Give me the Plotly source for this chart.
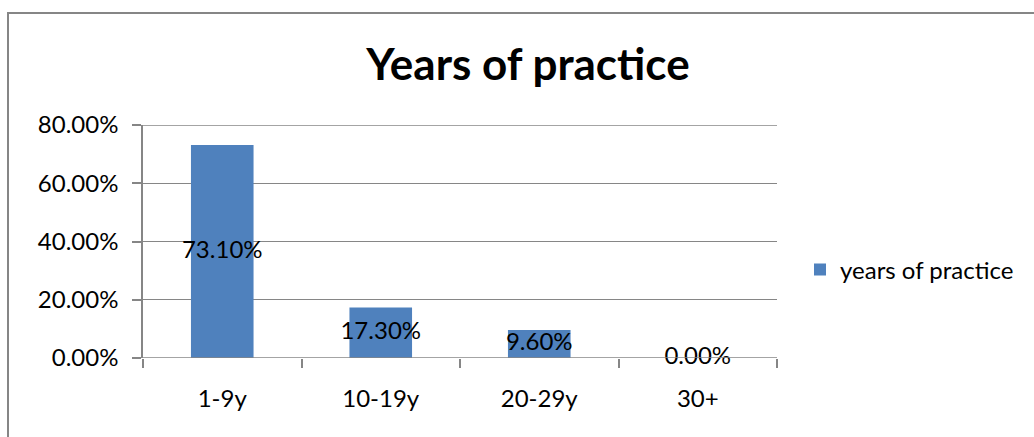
import plotly.graph_objects as go

categories = ["1-9y", "10-19y", "20-29y", "30+"]
shares = [73.10, 17.30, 9.60, 0.00]
label_texts = ["73.10%", "17.30%", "9.60%", "0.00%"]
y_ticks = [0, 20, 40, 60, 80]
y_tick_labels = ["0.00%", "20.00%", "40.00%", "60.00%", "80.00%"]

W, H = 1034, 437
L, R, T, B = 143, 257, 125, 79
plot_w = W - L - R
plot_h = H - T - B

FONT = "Lato"
GRID = "#868686"
BAR = "#4F81BD"

fig = go.Figure()
fig.add_trace(go.Bar(
    x=categories, y=shares, name="years of practice",
    marker=dict(color=BAR, line=dict(width=0)),
    width=0.395, showlegend=True,
))
# data labels centred on each bar
fig.add_trace(go.Scatter(
    x=categories, y=[v / 2 for v in shares], mode="text",
    text=label_texts, textposition="middle center",
    textfont=dict(family=FONT, size=24, color="#000000"),
    showlegend=False, hoverinfo="skip", cliponaxis=False,
))


def px_x(p):
    return (p - L) / plot_w


def px_y(p):
    return (H - B - p) / plot_h


fig.update_layout(
    width=W, height=H,
    margin=dict(l=L, r=R, t=T, b=B, pad=0),
    paper_bgcolor="white", plot_bgcolor="white",
    font=dict(family=FONT, size=24, color="#000000"),
    title=dict(text="<b>Years of practice</b>", x=px_x(528), xref="paper",
               xanchor="center", y=1 - 65 / H, yanchor="middle",
               font=dict(family=FONT, size=44, color="#000000")),
    legend=dict(x=px_x(800), y=px_y(270), xanchor="left", yanchor="middle",
                font=dict(family=FONT, size=24), bgcolor="rgba(0,0,0,0)",
                itemsizing="constant"),
    bargap=0.6,
    xaxis=dict(
        type="category", showgrid=False, showline=False, zeroline=False,
        ticks="outside", tickson="boundaries", ticklen=9, tickcolor=GRID,
        tickwidth=1.5, ticklabelstandoff=24,
        tickfont=dict(family=FONT, size=24),
    ),
    yaxis=dict(
        range=[0, 80], tickvals=y_ticks, ticktext=y_tick_labels,
        showgrid=True, gridcolor=GRID, gridwidth=1.3,
        showline=True, linecolor=GRID, linewidth=1.5,
        zeroline=False, ticks="outside", ticklen=9, tickcolor=GRID,
        tickwidth=1.5, ticklabelstandoff=9,
        tickfont=dict(family=FONT, size=24),
    ),
    shapes=[
        # chart-area border
        dict(type="rect", xref="paper", yref="paper",
             x0=px_x(8), x1=px_x(W + 10), y0=px_y(H + 10), y1=px_y(13),
             line=dict(color=GRID, width=2), fillcolor="rgba(0,0,0,0)",
             layer="below"),
        # baseline at 0% and top gridline at 80%
        dict(type="line", xref="paper", yref="y", x0=0, x1=1,
             y0=y_ticks[0], y1=y_ticks[0],
             line=dict(color=GRID, width=1.5), layer="above"),
        dict(type="line", xref="paper", yref="y", x0=0, x1=1,
             y0=y_ticks[-1], y1=y_ticks[-1],
             line=dict(color=GRID, width=1.3), layer="below"),
    ],
)

fig.write_html("out.html")
